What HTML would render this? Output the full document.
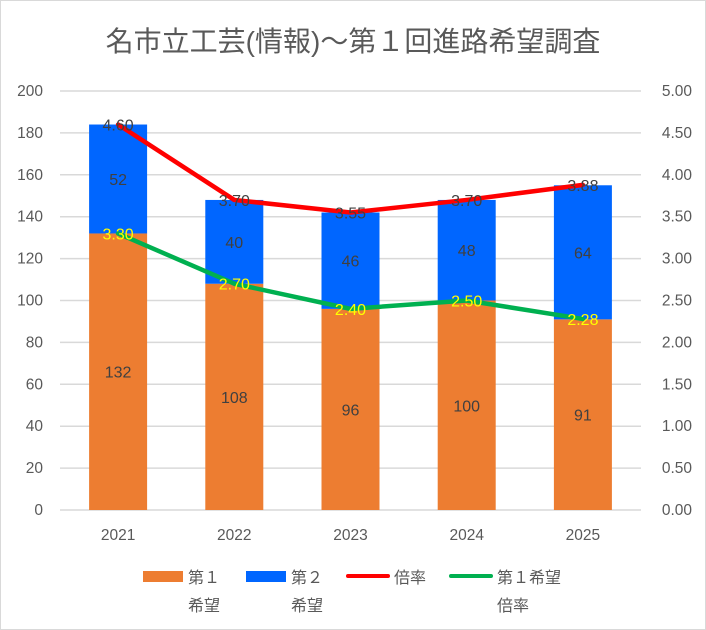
<!DOCTYPE html>
<html><head><meta charset="utf-8"><style>
body{margin:0;background:#fff}
svg{display:block;font-family:"Liberation Sans","Noto Sans CJK JP",sans-serif}
</style></head><body>
<svg id="chart" width="706" height="630">
<rect x="0.5" y="0.5" width="705" height="629" fill="#fff" stroke="#d9d9d9"/>
<text x="353" y="51" text-anchor="middle" font-size="28" fill="#595959">名市立工芸(情報)～第１回進路希望調査</text>
<g id="grid"></g><g id="bars"></g><g id="lines"></g><g id="labels"></g><g id="axes"></g>
<g font-size="16" fill="#595959">
<rect x="143" y="571" width="40" height="11" fill="#ed7d31"/>
<text x="188" y="583">第１</text>
<text x="188" y="611">希望</text>
<rect x="246" y="571" width="40" height="11" fill="#0066ff"/>
<text x="291" y="583">第２</text>
<text x="291" y="611">希望</text>
<line x1="348" y1="576" x2="388" y2="576" stroke="#ff0000" stroke-width="4" stroke-linecap="round"/>
<text x="394" y="583">倍率</text>
<line x1="451" y1="576" x2="491" y2="576" stroke="#00b050" stroke-width="4" stroke-linecap="round"/>
<text x="497" y="583">第１希望</text>
<text x="497" y="611">倍率</text>
</g>
</svg>
<script>
const categories=["2021","2022","2023","2024","2025"];
const firstChoice=[132,108,96,100,91];
const secondChoice=[52,40,46,48,64];
const ratio=[4.60,3.70,3.55,3.70,3.88];
const firstRatio=[3.30,2.70,2.40,2.50,2.28];
const leftTicks=[0,20,40,60,80,100,120,140,160,180,200];
const rightTicks=[0,0.5,1,1.5,2,2.5,3,3.5,4,4.5,5];
const NS="http://www.w3.org/2000/svg";
const X0=60,X1=641,Y0=510,Y1=91;
const xc=i=>X0+(X1-X0)/categories.length*(i+0.5);
const yl=v=>Y0-(v/200)*(Y0-Y1);
const yr=v=>Y0-(v/5)*(Y0-Y1);
function mk(tag,attrs,parent,txt){const e=document.createElementNS(NS,tag);for(const k in attrs)e.setAttribute(k,attrs[k]);if(txt!==undefined)e.textContent=txt;document.getElementById(parent).appendChild(e);return e;}
leftTicks.forEach((t,i)=>{
 const g=mk('line',{x1:X0,x2:X1,y1:yl(t),y2:yl(t),stroke:'#d9d9d9','stroke-width':1.5},'grid');
 
 
 const l=mk('text',{x:43,y:yl(t)+5,'text-anchor':'end','font-size':15.5,fill:'#595959'},'axes',String(t));
 
 
});
rightTicks.forEach(t=>{
 const l=mk('text',{x:692,y:yr(t)+5,'text-anchor':'end','font-size':15.5,fill:'#595959'},'axes',t.toFixed(2));
 
 
});
const bw=58;
categories.forEach((c,i)=>{
 const x=xc(i)-bw/2;
 const b1=mk('rect',{x:x,y:yl(firstChoice[i]),width:bw,height:Y0-yl(firstChoice[i]),fill:'#ed7d31'},'bars');
 
 
 const top=firstChoice[i]+secondChoice[i];
 const b2=mk('rect',{x:x,y:yl(top),width:bw,height:yl(firstChoice[i])-yl(top),fill:'#0066ff'},'bars');
 
 
 const t1=mk('text',{x:xc(i),y:yl(firstChoice[i]/2)+6,'text-anchor':'middle','font-size':16,fill:'#404040'},'labels',String(firstChoice[i]));
 
 
 const t2=mk('text',{x:xc(i),y:yl(firstChoice[i]+secondChoice[i]/2)+6,'text-anchor':'middle','font-size':16,fill:'#404040'},'labels',String(secondChoice[i]));
 
 
 const xl=mk('text',{x:xc(i),y:540,'text-anchor':'middle','font-size':15.5,fill:'#595959'},'axes',c);
 
 
 const r=mk('text',{x:xc(i),y:yr(ratio[i])+6,'text-anchor':'middle','font-size':16,fill:'#404040'},'labels',ratio[i].toFixed(2));
 
 
 const f=mk('text',{x:xc(i),y:yr(firstRatio[i])+6,'text-anchor':'middle','font-size':16,fill:'#ffff00'},'labels',firstRatio[i].toFixed(2));
 
 
});
const pr=mk('polyline',{points:ratio.map((v,i)=>xc(i)+','+yr(v)).join(' '),fill:'none',stroke:'#ff0000','stroke-width':4.5,'stroke-linejoin':'round','stroke-linecap':'round'},'lines');


const pf=mk('polyline',{points:firstRatio.map((v,i)=>xc(i)+','+yr(v)).join(' '),fill:'none',stroke:'#00b050','stroke-width':4.5,'stroke-linejoin':'round','stroke-linecap':'round'},'lines');


</script>
</body></html>
